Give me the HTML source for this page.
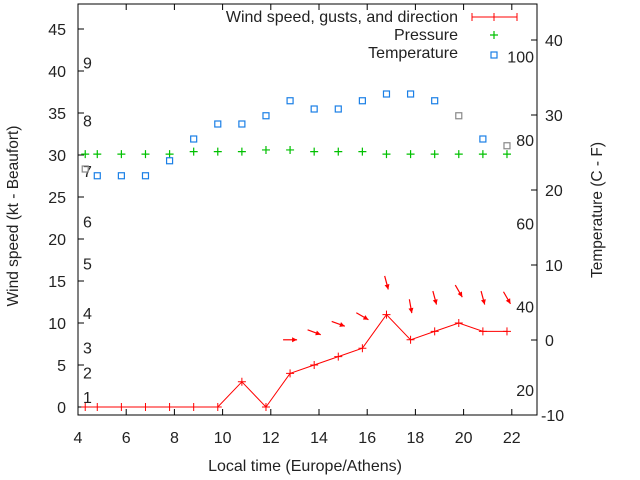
<!DOCTYPE html>
<html><head><meta charset="utf-8"><style>
html,body{margin:0;padding:0;background:#fff;}
svg{display:block;font-family:"Liberation Sans",sans-serif;}
</style></head><body>
<svg id="chart" width="640" height="480">
<g id="frame"></g>
<g id="marks"></g>
<g id="legend">
  <text x="458" y="22" text-anchor="end" font-size="16" fill="#222">Wind speed, gusts, and direction</text>
  <line x1="472" y1="17" x2="517" y2="17" stroke="red" stroke-width="1"/>
  <line x1="472" y1="13" x2="472" y2="21" stroke="red"/>
  <line x1="517" y1="13" x2="517" y2="21" stroke="red"/>
  <line x1="494" y1="13" x2="494" y2="21" stroke="red"/>
  <text x="458" y="40" text-anchor="end" font-size="16" fill="#222">Pressure</text>
  <path d="M490 35h8M494 31v8" stroke="#00c000" stroke-width="1.2"/>
  <text x="458" y="58" text-anchor="end" font-size="16" fill="#222">Temperature</text>
  <rect x="491" y="52" width="6" height="6" fill="none" stroke="#1a7fe6" stroke-width="1.2"/>
</g>
<text x="305" y="471" text-anchor="middle" font-size="16" fill="#222">Local time (Europe/Athens)</text>
<text transform="translate(18,216) rotate(-90)" text-anchor="middle" font-size="15.5" fill="#222">Wind speed (kt - Beaufort)</text>
<text transform="translate(602,210) rotate(-90)" text-anchor="middle" font-size="15.5" fill="#222">Temperature (C - F)</text>
</svg>
<script>
const hours=[4.3,4.8,5.8,6.8,7.8,8.8,9.8,10.8,11.8,12.8,13.8,14.8,15.8,16.8,17.8,18.8,19.8,20.8,21.8];
const windSpeed=[0,0,0,0,0,0,0,3,0,4,5,6,7,11,8,9,10,9,9];
const pressure=[30.1,30.1,30.1,30.1,30.1,30.4,30.4,30.4,30.6,30.6,30.4,30.4,30.4,30.1,30.1,30.1,30.1,30.1,30.1];
const temperature=[22.8,21.9,21.9,21.9,23.9,26.8,28.8,28.8,29.9,31.9,30.8,30.8,31.9,32.8,32.8,31.9,29.9,26.8,25.9];
const tempGray=[1,0,0,0,0,0,0,0,0,0,0,0,0,0,0,0,1,0,1];
const gustHours=[12.8,13.8,14.8,15.8,16.8,17.8,18.8,19.8,20.8,21.8];
const gustSpeed=[8,8.9,9.9,10.8,14.8,12,13,13.8,13,13];
const gustDir=[0,20,20,30,75,80,75,60,75,60];
const xTicks=[4,6,8,10,12,14,16,18,20,22];
const yTicks=[0,5,10,15,20,25,30,35,40,45];
const y2Ticks=[-10,0,10,20,30,40];
const beaufortLabels=["1","2","3","4","5","6","7","8","9"];
const beaufortY=[1.2,4.1,7.1,11.2,17.1,22.1,28.1,34.1,41];
const fLabels=["20","40","60","80","100"];
const fValues=[20,40,60,80,100];

const L=78,R=537,T=4,B=415;
const x=v=>78+(v-4)*24.1;
const y=v=>407-v*8.4;
const y2=v=>340-v*7.5;
const NS="http://www.w3.org/2000/svg";
function mk(tag,attrs,parent){const e=document.createElementNS(NS,tag);for(const k in attrs)e.setAttribute(k,attrs[k]);parent.appendChild(e);return e;}
const frame=document.getElementById('frame'),marks=document.getElementById('marks');
let e=mk('rect',{x:L,y:T,width:R-L,height:B-T,fill:'none',stroke:'#000','stroke-width':1},frame);


xTicks.forEach(v=>{
  const t=mk('path',{d:`M${x(v)} ${B}v-6M${x(v)} ${T}v6`,stroke:'#000'},frame);
  
  
  const l=mk('text',{x:x(v),y:443,'text-anchor':'middle','font-size':16,fill:'#222'},frame);l.textContent=v;
  
  
});
yTicks.forEach(v=>{
  const t=mk('path',{d:`M${L} ${y(v)}h6`,stroke:'#000'},frame);
  
  
  const l=mk('text',{x:L-12,y:y(v)+6,'text-anchor':'end','font-size':16,fill:'#222'},frame);l.textContent=v;
  
  
});
y2Ticks.forEach(v=>{
  const t=mk('path',{d:`M${R} ${y2(v)}h-6`,stroke:'#000'},frame);
  
  
  const l=mk('text',{x:R+4+(v<0?0:4),y:y2(v)+6,'font-size':16,fill:'#222'},frame);l.textContent=v;
  
  
});
beaufortLabels.forEach((s,i)=>{
  const l=mk('text',{x:83,y:y(beaufortY[i])+6,'font-size':16,fill:'#222'},frame);l.textContent=s;
  
  
});
fLabels.forEach((s,i)=>{
  const c=(fValues[i]-32)*5/9;
  const l=mk('text',{x:534,y:y2(c)+6,'text-anchor':'end','font-size':16,fill:'#222'},frame);l.textContent=s;
  
  
});
hours.forEach((h,i)=>{
  const p=mk('path',{d:`M${x(h)-4} ${y(pressure[i])}h8M${x(h)} ${y(pressure[i])-4}v8`,stroke:'#00c000','stroke-width':1.2},marks);
  
  
});
hours.forEach((h,i)=>{
  const r=mk('rect',{x:x(h)-3,y:y2(temperature[i])-3,width:6,height:6,fill:'none',stroke:tempGray[i]?'#888':'#1a7fe6','stroke-width':1.2},marks);
  
  
});
const wl=mk('polyline',{points:hours.map((h,i)=>x(h)+','+y(windSpeed[i])).join(' '),fill:'none',stroke:'red','stroke-width':1},marks);


hours.forEach((h,i)=>{
  const p=mk('path',{d:`M${x(h)-4} ${y(windSpeed[i])}h8M${x(h)} ${y(windSpeed[i])-4}v8`,stroke:'red','stroke-width':1},marks);
  
  
});
gustHours.forEach((h,i)=>{
  const cx=x(h),cy=y(gustSpeed[i]),a=gustDir[i]*Math.PI/180,len=7;
  const dx=Math.cos(a)*len,dy=Math.sin(a)*len;
  const x2=cx+dx,y2p=cy+dy;
  const hx=Math.cos(a),hy=Math.sin(a);
  const p1=[x2-hx*5-hy*2.5,y2p-hy*5+hx*2.5],p2=[x2-hx*5+hy*2.5,y2p-hy*5-hx*2.5];
  const g=mk('g',{},marks);
  
  
  mk('line',{x1:cx-dx,y1:cy-dy,x2:x2,y2:y2p,stroke:'red','stroke-width':1.2},g);
  mk('polygon',{points:`${x2},${y2p} ${p1[0]},${p1[1]} ${p2[0]},${p2[1]}`,fill:'red'},g);
});
</script>
</body></html>
